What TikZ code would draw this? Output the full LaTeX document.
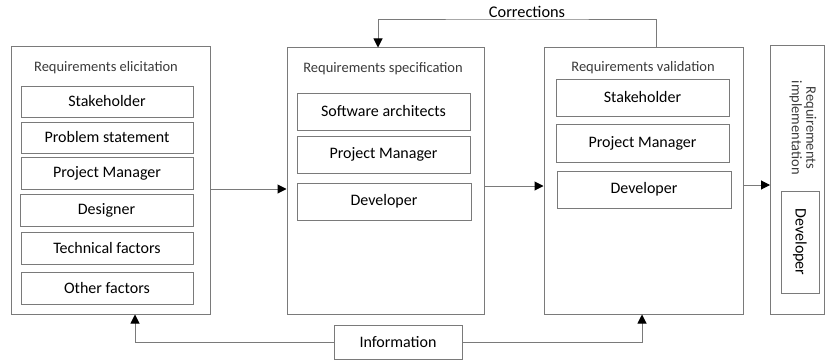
\documentclass[tikz,border=0pt]{standalone}
\usepackage{fontspec}
\setmainfont{Carlito}
\usetikzlibrary{arrows.meta}

\definecolor{edge}{HTML}{7A7A7A}
\definecolor{titletext}{HTML}{3A3A3A}

\tikzset{
  stage/.style={draw=edge, line width=1pt, rectangle, inner sep=0pt},
  rolebox/.style={draw=edge, line width=1pt, rectangle, inner sep=0pt,
    font=\fontsize{16}{18}\selectfont, text=black},
  stagetitle/.style={font=\fontsize{14.5}{16}\selectfont, text=titletext, inner sep=0pt},
  flow/.style={draw=edge, line width=1pt,
    -{Triangle[length=9pt,width=9pt,color=black]}},
  flowlabel/.style={font=\fontsize{16.3}{18}\selectfont, text=black, inner sep=0pt},
}

\begin{document}
\begin{tikzpicture}[x=1pt, y=-1pt]
  \useasboundingbox (0,0) rectangle (826,361);

  % four process stages
  \node[stage, minimum width=199pt, minimum height=267pt] (b1) at (110.5,180.5) {};
  \node[stage, minimum width=197pt, minimum height=266pt] (b2) at (385.5,181) {};
  \node[stage, minimum width=199pt, minimum height=266pt] (b3) at (643.5,181) {};
  \node[stage, minimum width=54pt, minimum height=268pt] (b4) at (797.5,180) {};

  % stage titles
  \node[stagetitle] (t1) at (106,68) {Requirements elicitation};
  \node[stagetitle] (t2) at (383,69) {Requirements specification};
  \node[stagetitle] (t3) at (643,68) {Requirements validation};
  \node[stagetitle, rotate=-90, align=center, font=\fontsize{14.5}{14.5}\selectfont] (t4)
    at (803,128) {Requirements\\implementation};

  % elicitation inputs
  \node[rolebox, minimum width=172pt, minimum height=31pt] (e1) at (107,101.5) {Stakeholder};
  \node[rolebox, minimum width=172pt, minimum height=31pt] (e2) at (107,137.5) {Problem statement};
  \node[rolebox, minimum width=172pt, minimum height=32pt] (e3) at (107,173) {Project Manager};
  \node[rolebox, minimum width=173pt, minimum height=32pt] (e4) at (106.5,210) {Designer};
  \node[rolebox, minimum width=172pt, minimum height=32pt] (e5) at (107,248) {Technical factors};
  \node[rolebox, minimum width=172pt, minimum height=32pt] (e6) at (107,288) {Other factors};

  % specification roles
  \node[rolebox, minimum width=173pt, minimum height=37pt] (s1) at (383.5,111.5) {Software architects};
  \node[rolebox, minimum width=173pt, minimum height=37pt] (s2) at (383.5,154.5) {Project Manager};
  \node[rolebox, minimum width=174pt, minimum height=37pt] (s3) at (384,201.5) {Developer};

  % validation roles
  \node[rolebox, minimum width=173pt, minimum height=37pt] (v1) at (642.5,97.5) {Stakeholder};
  \node[rolebox, minimum width=173pt, minimum height=38pt] (v2) at (642.5,143) {Project Manager};
  \node[rolebox, minimum width=174pt, minimum height=37pt] (v3) at (644,189.5) {Developer};

  % implementation role
  \node[rolebox, minimum width=102pt, minimum height=38pt, rotate=-90] (i1) at (800,242) {Developer};

  % information source
  \node[rolebox, minimum width=128pt, minimum height=34pt] (info) at (398,342) {Information};

  % forward flow between stages
  \draw[flow] (b1.east |- 0,189) -- (b2.west |- 0,189);
  \draw[flow] (b2.east |- 0,186) -- (b3.west |- 0,186);
  \draw[flow] (b3.east |- 0,185) -- (b4.west |- 0,185);

  % feedback from validation to specification
  \coordinate (cbend) at (517,20);
  \draw[flow] (b3.north -| 656,0) |- (cbend) -| (b2.north -| 378,0);
  \node[flowlabel] (corr) at (527,12) {Corrections};

  % information feeds elicitation and validation
  \draw[flow] (info.west) -| (b1.south -| 135,0);
  \draw[flow] (info.east) -| (b3.south -| 642,0);
\end{tikzpicture}
\end{document}
